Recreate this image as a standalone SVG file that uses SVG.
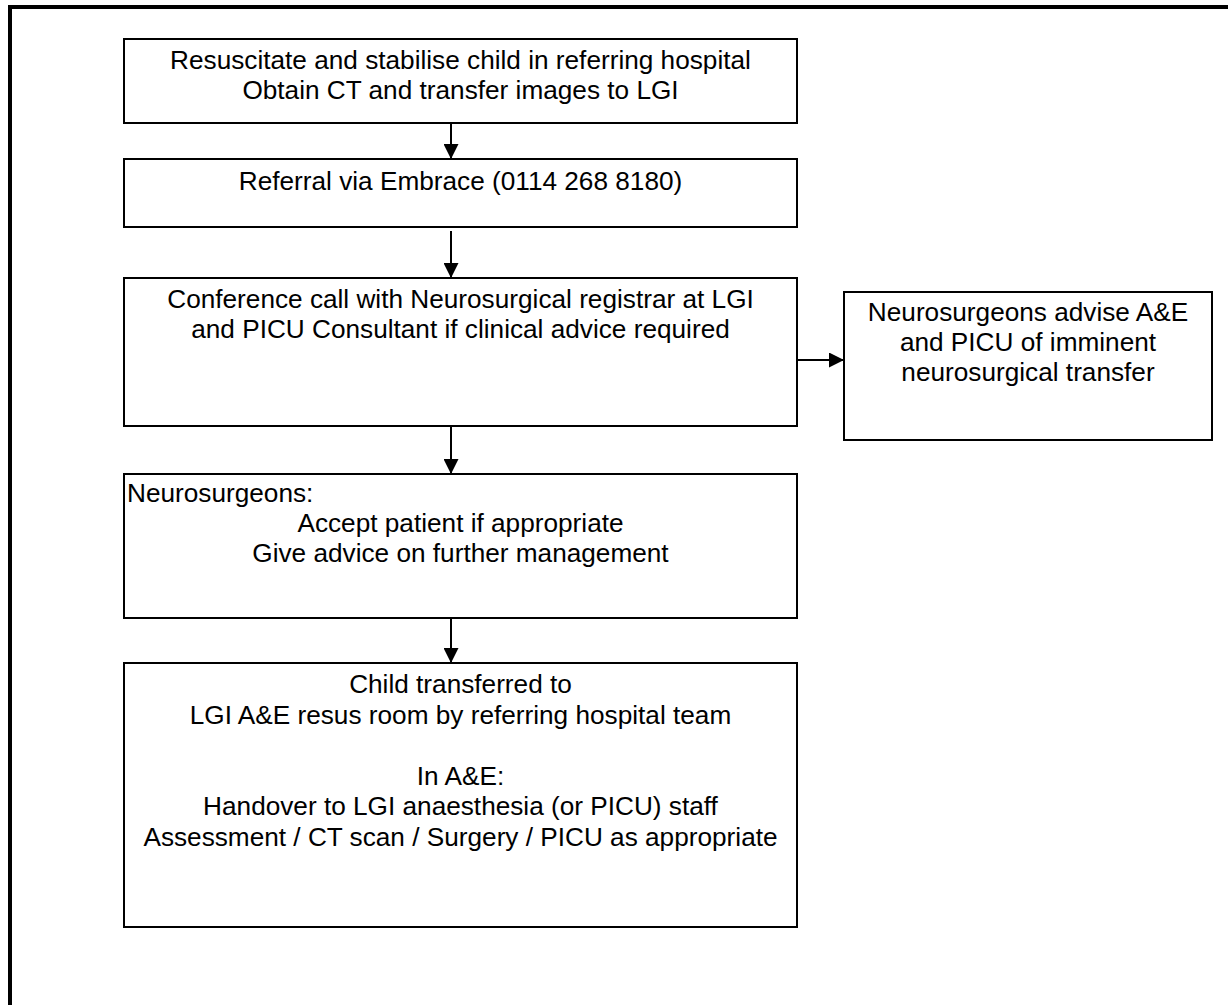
<svg xmlns="http://www.w3.org/2000/svg" width="1228" height="1005" viewBox="0 0 1228 1005">
<defs>
<style>
.box{fill:#fff;stroke:#000;stroke-width:2}
.t{font-family:"Liberation Sans",Arial,sans-serif;font-size:26.2px;fill:#000;text-anchor:middle}
.tl{text-anchor:start}
.c{stroke:#000;stroke-width:2;fill:none}
</style>
<marker id="ah" markerUnits="userSpaceOnUse" markerWidth="15" markerHeight="15" refX="15" refY="7.5" orient="auto">
<path d="M0,0 L15,7.5 L0,15 Z" fill="#000"/>
</marker>
</defs>
<rect width="1228" height="1005" fill="#fff"/>
<g id="frame">
<rect x="8" y="5" width="1220" height="4" fill="#000"/>
<rect x="8" y="5" width="4" height="1000" fill="#000"/>
</g>
<g id="connectors">
<line class="c" x1="451" y1="123" x2="451" y2="159" marker-end="url(#ah)"/>
<line class="c" x1="451" y1="231" x2="451" y2="278" marker-end="url(#ah)"/>
<line class="c" x1="797" y1="360" x2="844" y2="360" marker-end="url(#ah)"/>
<line class="c" x1="451" y1="426" x2="451" y2="474" marker-end="url(#ah)"/>
<line class="c" x1="451" y1="618" x2="451" y2="663" marker-end="url(#ah)"/>
</g>
<g id="n1">
<rect class="box" x="124" y="39" width="673" height="84"/>
<text class="t" x="460.5" y="69">Resuscitate and stabilise child in referring hospital</text>
<text class="t" x="460.5" y="99">Obtain CT and transfer images to LGI</text>
</g>
<g id="n2">
<rect class="box" x="124" y="159" width="673" height="68"/>
<text class="t" x="460.5" y="190">Referral via Embrace (0114 268 8180)</text>
</g>
<g id="n3">
<rect class="box" x="124" y="278" width="673" height="148"/>
<text class="t" x="460.5" y="308">Conference call with Neurosurgical registrar at LGI</text>
<text class="t" x="460.5" y="338">and PICU Consultant if clinical advice required</text>
</g>
<g id="n4">
<rect class="box" x="844" y="292" width="368" height="148"/>
<text class="t" x="1028" y="321">Neurosurgeons advise A&amp;E</text>
<text class="t" x="1028" y="351">and PICU of imminent</text>
<text class="t" x="1028" y="381">neurosurgical transfer</text>
</g>
<g id="n5">
<rect class="box" x="124" y="474" width="673" height="144"/>
<text class="t tl" x="127" y="502">Neurosurgeons:</text>
<text class="t" x="460.5" y="532">Accept patient if appropriate</text>
<text class="t" x="460.5" y="562">Give advice on further management</text>
</g>
<g id="n6">
<rect class="box" x="124" y="663" width="673" height="264"/>
<text class="t" x="460.5" y="693">Child transferred to</text>
<text class="t" x="460.5" y="724">LGI A&amp;E resus room by referring hospital team</text>
<text class="t" x="460.5" y="785">In A&amp;E:</text>
<text class="t" x="460.5" y="815">Handover to LGI anaesthesia (or PICU) staff</text>
<text class="t" x="460.5" y="846">Assessment / CT scan / Surgery / PICU as appropriate</text>
</g>
</svg>
